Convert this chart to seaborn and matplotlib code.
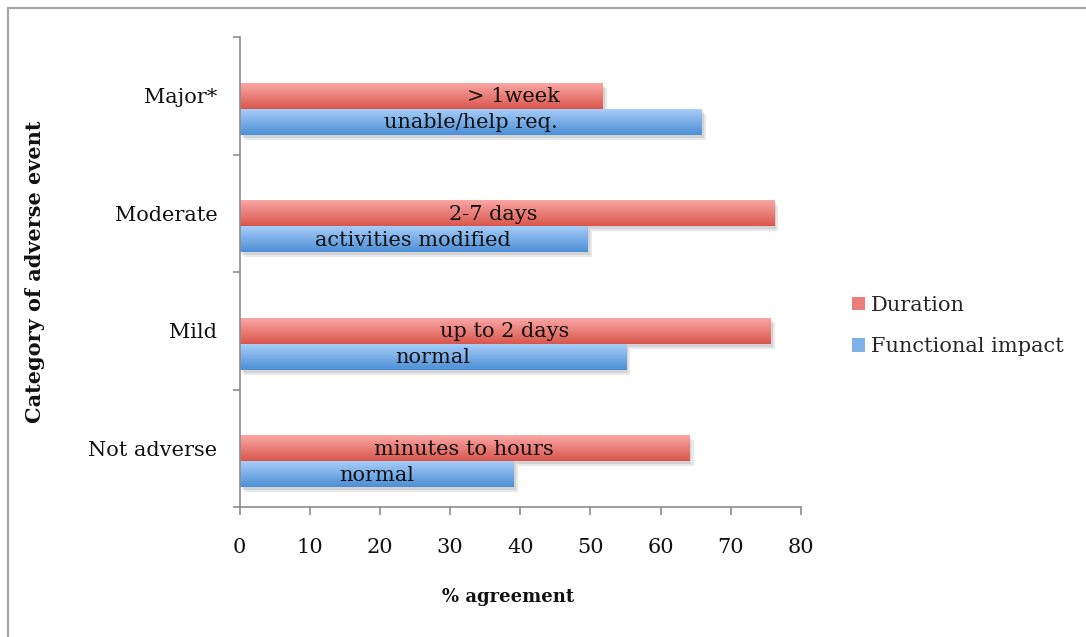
import numpy as np
import pandas as pd
import seaborn as sns
import matplotlib.pyplot as plt
from matplotlib.colors import LinearSegmentedColormap
from matplotlib.patches import Patch
from matplotlib.lines import Line2D
import matplotlib.patheffects as pe

# Data
categories = ["Major*", "Moderate", "Mild", "Not adverse"]
duration = [51.7, 76.1, 75.6, 64.0]
functional = [65.8, 49.5, 55.0, 39.0]
duration_labels = ["> 1week", "2-7 days", "up to 2 days", "minutes to hours"]
functional_labels = ["unable/help req.", "activities modified", "normal", "normal"]
series_names = ["Duration", "Functional impact"]
x_ticks = [0, 10, 20, 30, 40, 50, 60, 70, 80]

sns.set_theme(style="white")
plt.rcParams["font.family"] = ["DejaVu Serif"]

df = pd.DataFrame({
    "category": categories * 3,
    "series": [""] * 4 + [series_names[0]] * 4 + [series_names[1]] * 4,
    "value": [np.nan] * 4 + duration + functional,
})

fig = plt.figure(figsize=(10.86, 6.37), dpi=100)
ax = fig.add_axes([239.5 / 1086, 1 - 507 / 637, (801 - 239.5) / 1086, (507 - 37) / 637])

grad = {
    series_names[0]: ("#fbaaa7", "#d9564d"),
    series_names[1]: ("#abcffa", "#4c8fd6"),
}

sns.barplot(
    data=df, y="category", x="value", hue="series",
    order=categories, hue_order=["", series_names[0], series_names[1]],
    orient="h", width=0.664, dodge=True, legend=False, ax=ax,
    palette={"": "white", series_names[0]: grad[series_names[0]][1],
             series_names[1]: grad[series_names[1]][1]},
    errorbar=None, saturation=1,
)

ax.set_xlim(0, 80)
ax.set_ylim(3.5, -0.5)

# gradient fill + soft shadow for each bar
label_shift = {"> 1week": 13.2, "2-7 days": -1.9}
bars = [p for p in ax.patches if np.isfinite(p.get_width()) and p.get_width() > 0]
for p in bars:
    x0, y0 = p.get_x(), p.get_y()
    w, h = p.get_width(), p.get_height()
    yc = y0 + h / 2
    off = yc - int(round(yc))
    name = series_names[0] if -0.15 < off < 0.05 else series_names[1]
    top, bot = grad[name]
    p.set_facecolor(bot)
    p.set_edgecolor("none")
    p.set_path_effects([
        pe.SimplePatchShadow(offset=(3.5, -3.5), shadow_rgbFace="#9a9a9a", alpha=0.22),
        pe.SimplePatchShadow(offset=(2, -2), shadow_rgbFace="#8a8a8a", alpha=0.22),
        pe.Normal(),
    ])
    cmap = LinearSegmentedColormap.from_list("g", [top, bot])
    im = ax.imshow(np.linspace(0, 1, 64).reshape(-1, 1), cmap=cmap,
                   extent=(x0, x0 + w, y0 + h, y0), origin="upper",
                   aspect="auto", zorder=p.get_zorder() + 0.5)
    im.set_clip_path(p)

ax.set_xlim(0, 80)
ax.set_ylim(3.5, -0.5)

# centered data labels
for i, cat in enumerate(categories):
    for vals, labs, dy in ((duration, duration_labels, 0.0), (functional, functional_labels, 0.221)):
        txt = labs[i]
        x = vals[i] / 2 + (label_shift.get(txt, 0.0) if dy == 0.0 else 0.0)
        ax.text(x, i + dy + 0.01, txt, ha="center", va="center", fontsize=15,
                color="#111111", zorder=10)

# axes styling
spine_color = "#8c8c8c"
for s in ["top", "right"]:
    ax.spines[s].set_visible(False)
for s in ["left", "bottom"]:
    ax.spines[s].set_color(spine_color)
    ax.spines[s].set_linewidth(1.2)

ax.set_xticks(x_ticks)
ax.set_xticklabels([str(t) for t in x_ticks])
ax.set_yticks(range(len(categories)))
ax.set_yticklabels(categories)
ax.set_yticks([-0.5, 0.5, 1.5, 2.5, 3.5], minor=True)
ax.tick_params(axis="y", which="major", length=0, pad=16, labelsize=15, labelcolor="#111111")
ax.tick_params(axis="y", which="minor", length=5, width=1.2, color=spine_color, left=True)
ax.tick_params(axis="x", which="major", length=6, width=1.2, color=spine_color,
               bottom=True, pad=16, labelsize=15, labelcolor="#111111")
ax.set_xlabel("")
ax.set_ylabel("")
ax.grid(False)

fig.text(508 / 1086, 1 - 597 / 637, "% agreement", ha="center", va="center",
         fontsize=13, fontweight="bold", color="#111111")
fig.text(35 / 1086, 1 - 272 / 637, "Category of adverse event", ha="center", va="center",
         rotation=90, fontsize=15, fontweight="bold", color="#111111")

handles = [Patch(facecolor="#ea7f79", edgecolor="none"),
           Patch(facecolor="#7eb0ea", edgecolor="none")]
fig.legend(handles, series_names, loc="center left",
           bbox_to_anchor=(852 / 1086, 1 - 326 / 637), frameon=False,
           fontsize=15, handlelength=0.6, handleheight=0.6,
           handletextpad=0.3, labelspacing=1.1, borderpad=0, borderaxespad=0)

# outer frame (left and top edges)
frame_c = "#a6a6a6"
fig.add_artist(Line2D([7.5 / 1086, 7.5 / 1086], [0, 1 - 7.5 / 637], color=frame_c,
                      lw=1.6, transform=fig.transFigure))
fig.add_artist(Line2D([7.5 / 1086, 1], [1 - 7.5 / 637, 1 - 7.5 / 637], color=frame_c,
                      lw=1.6, transform=fig.transFigure))

fig.savefig("out.png", dpi=100, facecolor="white")
